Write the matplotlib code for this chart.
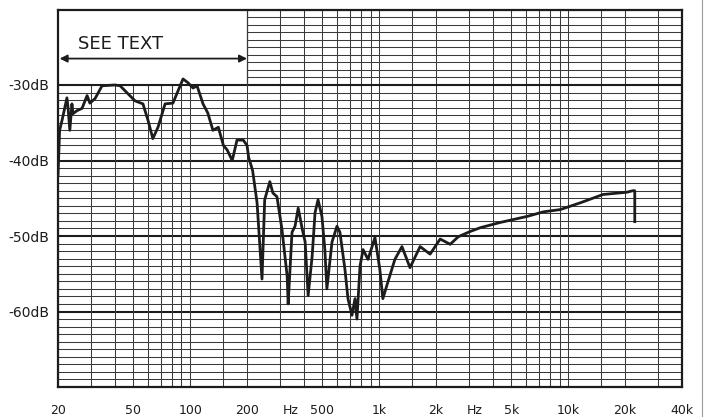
import numpy as np
import matplotlib.pyplot as plt
from matplotlib.patches import Rectangle

# measured response, frequency in Hz and level in dB
freq = [20, 20.4, 21.0, 22.3, 22.6, 23.1, 23.7, 24.0, 25.2, 26.8, 28.5, 29.5,
        31.4, 34.2, 40.0, 42.6, 51.1, 56.3, 59.9, 63.5, 67.6, 73.7, 81.1,
        91.7, 97.4, 103.6, 108.8, 117, 124, 132, 141, 150, 157, 167, 177,
        191, 200, 204, 214, 226, 240, 248, 264, 274, 288, 306, 326, 330,
        346, 359, 373, 392, 406, 421, 442, 458, 475, 498, 516, 529, 563,
        598, 620, 659, 684, 718, 745, 763, 792, 822, 873, 950, 1008, 1046,
        1112, 1211, 1320, 1456, 1646, 1860, 2102, 2376, 2620, 3032, 3427,
        4378, 6080, 7390, 9080, 11600, 15290, 20440, 22000, 22500, 22500]
level = [-42.0, -36.0, -34.7, -31.7, -33.0, -36.0, -32.5, -33.8, -33.4, -33.1,
         -31.4, -32.4, -31.8, -30.1, -30.0, -30.1, -32.1, -32.5, -34.7, -37.1,
         -35.6, -32.5, -32.4, -29.2, -29.7, -30.4, -30.1, -32.5, -33.7, -36.0,
         -35.6, -38.0, -38.6, -40.0, -37.3, -37.3, -38.0, -39.6, -41.3, -45.6,
         -55.7, -45.2, -42.8, -44.3, -44.8, -49.1, -55.3, -59.0, -49.5, -48.7,
         -46.3, -49.1, -50.8, -57.9, -52.7, -46.9, -45.2, -47.4, -51.8, -57.0,
         -50.8, -48.7, -49.5, -54.4, -58.3, -60.5, -58.3, -61.0, -54.0, -51.8,
         -53.1, -50.2, -54.4, -58.3, -56.1, -53.1, -51.4, -54.2, -51.4, -52.4,
         -50.4, -51.1, -50.1, -49.4, -48.9, -48.2, -47.4, -46.8, -46.5, -45.6,
         -44.5, -44.2, -44.0, -44.0, -48.1]

# chart-paper rulings
grid_freqs = ([20, 30, 40, 50, 60, 70, 80, 90, 100, 150,
               200, 300, 400, 500, 600, 700, 800, 900, 1000, 1500,
               2000, 3000, 4000, 5000, 6000, 7000, 8000, 9000, 10000, 15000,
               20000, 30000, 40000])
grid_db = list(range(-70, -19))
major_db = [-30, -40, -50, -60]

xtick_pos = [20, 50, 100, 200, 340, 500, 1000, 2000, 3200, 5000, 10000, 20000, 40000]
xtick_lab = ["20", "50", "100", "200", "Hz", "500", "1k", "2k", "Hz", "5k", "10k", "20k", "40k"]
ytick_lab = ["-30dB", "-40dB", "-50dB", "-60dB"]

ink = "#1c1c1c"
rule = "#3a3a3a"

fig = plt.figure(figsize=(7.05, 4.17), dpi=100)
fig.patch.set_facecolor("white")
ax = fig.add_axes([58 / 705, 1 - 387 / 417, 624 / 705, 377.5 / 417])
ax.set_xscale("log")
ax.set_xlim(20, 40000)
ax.set_ylim(-70, -20)

for d in grid_db:
    if d in major_db:
        ax.axhline(d, color=ink, lw=1.5, zorder=3 if d == -30 else 1)
    else:
        ax.axhline(d, color=rule, lw=0.75, zorder=1)
for f in grid_freqs:
    ax.axvline(f, color=rule, lw=0.75, zorder=1)

# blank panel over the low-frequency top corner
ax.add_patch(Rectangle((20, -30), 180, 10, facecolor="white", edgecolor="none", zorder=2))
ax.plot([200, 200], [-30, -20], color=rule, lw=0.9, zorder=3)
ax.annotate("", xy=(20.4, -26.5), xytext=(200, -26.5),
            arrowprops=dict(arrowstyle="<|-|>", color=ink, lw=1.3,
                            mutation_scale=11, shrinkA=0, shrinkB=0), zorder=4)
ax.text(25.5, -24.6, "SEE TEXT", fontsize=13, color=ink, ha="left", va="center", zorder=4)

ax.plot(freq, level, color=ink, lw=2.0, zorder=5, solid_joinstyle="round")

ax.set_yticks(major_db)
ax.set_yticklabels(ytick_lab, fontsize=10, color=ink)
ax.set_xticks(xtick_pos)
ax.set_xticklabels(xtick_lab, fontsize=9, color=ink)
ax.xaxis.set_minor_locator(plt.NullLocator())
ax.tick_params(axis="both", length=0)
ax.tick_params(axis="y", pad=6)
ax.tick_params(axis="x", pad=12)
for s in ax.spines.values():
    s.set_linewidth(1.6)
    s.set_color(ink)
    s.set_zorder(6)

# edge of the scanned page
fig.add_artist(plt.Line2D([702 / 705, 702 / 705], [0, 1], color="#9a9a9a", lw=0.8))

fig.savefig("out.png", dpi=100)
